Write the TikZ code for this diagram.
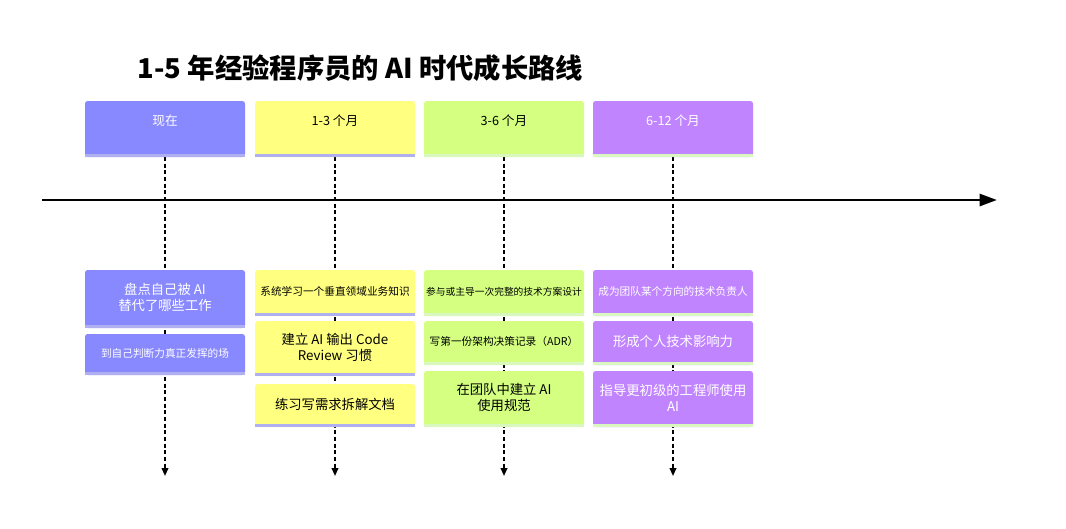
\documentclass[tikz,border=0pt]{standalone}
\usepackage{fontspec}
\setmainfont{Noto Sans CJK SC}
\usetikzlibrary{arrows.meta}

\definecolor{nowblue}{HTML}{8888FF}
\definecolor{monyellow}{HTML}{FFFF80}
\definecolor{mongreen}{HTML}{D4FF80}
\definecolor{monpurple}{HTML}{C184FF}
\definecolor{striplav}{HTML}{B0B0F0}
\definecolor{stripgreen}{HTML}{D8F8C0}

\tikzset{
  guide/.style={densely dashed, line width=1.3pt, -{Triangle[length=6pt,width=5pt]}},
  headlbl/.style={font=\fontsize{9.5}{11}\selectfont},
  lbl/.style={font=\fontsize{10}{12}\selectfont, align=center},
  longlbl/.style={font=\fontsize{8}{10}\selectfont, align=center},
}

% box with a thin strip along its bottom edge
\newcommand{\stepbox}[6]{%
  \fill[#5, rounded corners=2pt] (#2-80,#3) rectangle (#2+80,#4);
  \fill[#6] (#2-80,#4-3) rectangle (#2+80,#4);
  \coordinate (#1) at (#2,{(#3+#4-3)/2});
}

\begin{document}
\begin{tikzpicture}[x=0.75pt,y=-0.75pt]
  \useasboundingbox (0,0) rectangle (1066,528);

  \node[anchor=west, font=\bfseries\fontsize{20.5}{24}\selectfont] (title) at (133,68) {1-5 年经验程序员的 AI 时代成长路线};

  % time line
  \coordinate (tl0) at (42,200);
  \coordinate (tl1) at (997,200);
  \draw[line width=2pt, -{Triangle[length=13pt,width=9pt]}] (tl0) -- (tl1);

  % guides
  \foreach \x/\n in {165/a,335/b,504/c,673/d} {
    \coordinate (top\n) at (\x,157);
    \coordinate (end\n) at (\x,476);
    \draw[guide] (top\n) -- (end\n);
  }

  % phase heads
  \stepbox{pa}{165}{101}{157}{nowblue}{striplav}
  \stepbox{pb}{335}{101}{157}{monyellow}{striplav}
  \stepbox{pc}{504}{101}{157}{mongreen}{stripgreen}
  \stepbox{pd}{673}{101}{157}{monpurple}{stripgreen}
  \node[headlbl, text=white] (ha) at (165,121) {现在};
  \node[headlbl] (hb) at (335,121) {1-3 个月};
  \node[headlbl] (hc) at (504,121) {3-6 个月};
  \node[headlbl, text=white] (hd) at (673,121) {6-12 个月};

  % now
  \stepbox{a1}{165}{270}{328}{nowblue}{striplav}
  \stepbox{a2}{165}{334}{375}{nowblue}{striplav}
  % 1-3 months
  \stepbox{b1}{335}{270}{316}{monyellow}{striplav}
  \stepbox{b2}{335}{321}{376}{monyellow}{striplav}
  \stepbox{b3}{335}{384}{427}{monyellow}{striplav}
  % 3-6 months
  \stepbox{c1}{504}{270}{316}{mongreen}{stripgreen}
  \stepbox{c2}{504}{321}{365}{mongreen}{stripgreen}
  \stepbox{c3}{504}{371}{427}{mongreen}{stripgreen}
  % 6-12 months
  \stepbox{d1}{673}{270}{316}{monpurple}{stripgreen}
  \stepbox{d2}{673}{321}{365}{monpurple}{stripgreen}
  \stepbox{d3}{673}{371}{427}{monpurple}{stripgreen}

  \node[lbl, text=white] (ta1) at (a1) {盘点自己被 AI\\替代了哪些工作};
  \node[longlbl, text=white] (ta2) at (a2) {到自己判断力真正发挥的场};
  \node[longlbl] (tb1) at (b1) {系统学习一个垂直领域业务知识};
  \node[lbl] (tb2) at (b2) {建立 AI 输出 Code\\Review 习惯};
  \node[lbl] (tb3) at (b3) {练习写需求拆解文档};
  \node[font=\fontsize{7.3}{9}\selectfont] (tc1) at (c1) {参与或主导一次完整的技术方案设计};
  \node[longlbl] (tc2) at (c2) {写第一份架构决策记录（ADR）};
  \node[lbl] (tc3) at (c3) {在团队中建立 AI\\使用规范};
  \node[longlbl, text=white] (td1) at (d1) {成为团队某个方向的技术负责人};
  \node[lbl, text=white] (td2) at (d2) {形成个人技术影响力};
  \node[lbl, text=white] (td3) at (d3) {指导更初级的工程师使用\\AI};
\end{tikzpicture}
\end{document}
